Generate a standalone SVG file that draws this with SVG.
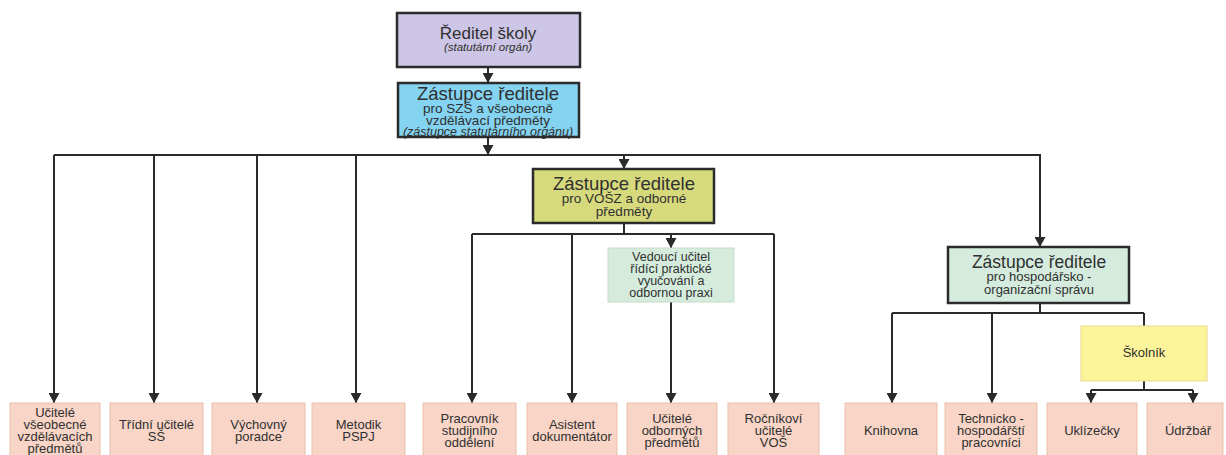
<svg xmlns="http://www.w3.org/2000/svg" width="1226" height="455" viewBox="0 0 1226 455">
<style>
text{font-family:"Liberation Sans",Arial,sans-serif;fill:#303030;text-anchor:middle}
.t{font-size:18.5px}
.s{font-size:13.5px}
.i{font-size:12.5px;font-style:italic}
.b{font-size:13px}
.v{font-size:12.5px}
.dark{stroke:#2b2b2b;stroke-width:2.5}
.leaf{fill:#f8d5c6;stroke:#e9bfac;stroke-width:1}
.con line,.con path{stroke:#2b2b2b;stroke-width:2;fill:none}
</style>
<defs>
<marker id="ah" viewBox="0 0 10 11" markerUnits="userSpaceOnUse" markerWidth="10" markerHeight="11" refX="10" refY="5.5" orient="auto">
<path d="M0,0 L10,5.5 L0,11 z" fill="#2b2b2b"/>
</marker>
</defs>
<rect width="1226" height="455" fill="#ffffff"/>

<g class="con">
<line x1="488" y1="67" x2="488" y2="83" marker-end="url(#ah)"/>
<line x1="488" y1="137" x2="488" y2="155" marker-end="url(#ah)"/>
<line x1="54" y1="155" x2="1041" y2="155"/>
<line x1="54" y1="155" x2="54" y2="403" marker-end="url(#ah)"/>
<line x1="154" y1="155" x2="154" y2="403" marker-end="url(#ah)"/>
<line x1="257" y1="155" x2="257" y2="403" marker-end="url(#ah)"/>
<line x1="356" y1="155" x2="356" y2="403" marker-end="url(#ah)"/>
<line x1="624" y1="155" x2="624" y2="169" marker-end="url(#ah)"/>
<line x1="1040" y1="155" x2="1040" y2="247" marker-end="url(#ah)"/>
<line x1="624" y1="223" x2="624" y2="234"/>
<line x1="472" y1="234" x2="774" y2="234"/>
<line x1="472" y1="234" x2="472" y2="403" marker-end="url(#ah)"/>
<line x1="572" y1="234" x2="572" y2="403" marker-end="url(#ah)"/>
<line x1="774" y1="234" x2="774" y2="403" marker-end="url(#ah)"/>
<line x1="671" y1="234" x2="671" y2="248" marker-end="url(#ah)"/>
<line x1="671" y1="302" x2="671" y2="403" marker-end="url(#ah)"/>
<line x1="1040" y1="303" x2="1040" y2="313"/>
<line x1="892" y1="313" x2="1144" y2="313"/>
<line x1="892" y1="313" x2="892" y2="403" marker-end="url(#ah)"/>
<line x1="992" y1="313" x2="992" y2="403" marker-end="url(#ah)"/>
<line x1="1144" y1="313" x2="1144" y2="326"/>
<line x1="1144" y1="381" x2="1144" y2="390"/>
<line x1="1091" y1="390" x2="1193" y2="390"/>
<line x1="1091" y1="390" x2="1091" y2="403" marker-end="url(#ah)"/>
<line x1="1193" y1="390" x2="1193" y2="403" marker-end="url(#ah)"/>
</g>

<g id="reditel">
<rect x="397" y="13" width="183" height="54" fill="#cdc6e6" class="dark"/>
<text x="488" y="39" style="font-size:17px">Ředitel školy</text>
<text x="488" y="51" class="i" style="font-size:11.5px">(statutární orgán)</text>
</g>

<g id="zastupce-szs">
<rect x="398" y="83" width="181" height="54" fill="#83d3f1" class="dark"/>
<text x="488" y="99.5" class="t">Zástupce ředitele</text>
<text x="488" y="113" class="s">pro SZŠ a všeobecně</text>
<text x="488" y="125" class="s">vzdělávací předměty</text>
<text x="488" y="136" class="i">(zástupce statutárního orgánu)</text>
</g>

<g id="zastupce-vosz">
<rect x="533" y="169" width="181" height="54" fill="#d6da7c" class="dark"/>
<text x="624" y="190" class="t">Zástupce ředitele</text>
<text x="624" y="203" class="s">pro VOŠZ a odborné</text>
<text x="624" y="216" class="s">předměty</text>
</g>

<g id="vedouci-ucitel">
<rect x="608" y="248" width="126" height="54" fill="#d5ecdd" stroke="#c3dccb" stroke-width="1"/>
<text x="671" y="261" class="v">Vedoucí učitel</text>
<text x="671" y="273" class="v">řídící praktické</text>
<text x="671" y="285" class="v">vyučování a</text>
<text x="671" y="297" class="v">odbornou praxi</text>
</g>

<g id="zastupce-hosp">
<rect x="948" y="247" width="181" height="56" fill="#d4ebdd" class="dark"/>
<text x="1039" y="268" style="font-size:17.5px">Zástupce ředitele</text>
<text x="1039" y="281" class="b">pro hospodářsko -</text>
<text x="1039" y="293.5" class="b">organizační správu</text>
</g>

<g id="skolnik">
<rect x="1081" y="326" width="126" height="55" fill="#fbf49a" stroke="#e6dc8e" stroke-width="1"/>
<text x="1144" y="357" class="b">Školník</text>
</g>

<g id="ucitele-vseobecne">
<rect x="10" y="403" width="90" height="60" class="leaf"/>
<text x="55" y="417" class="b">Učitelé</text>
<text x="55" y="429" class="b">všeobecné</text>
<text x="55" y="441" class="b">vzdělávacích</text>
<text x="55" y="453" class="b">předmětů</text>
</g>

<g id="tridni-ucitele">
<rect x="110" y="403" width="93" height="60" class="leaf"/>
<text x="156.5" y="429" class="b">Třídní učitelé</text>
<text x="156.5" y="441" class="b">SŠ</text>
</g>

<g id="vychovny-poradce">
<rect x="212" y="403" width="93" height="60" class="leaf"/>
<text x="258.5" y="429" class="b">Výchovný</text>
<text x="258.5" y="441" class="b">poradce</text>
</g>

<g id="metodik">
<rect x="312" y="403" width="93" height="60" class="leaf"/>
<text x="358.5" y="429" class="b">Metodik</text>
<text x="358.5" y="441" class="b">PSPJ</text>
</g>

<g id="pracovnik-studijniho">
<rect x="423" y="403" width="93" height="60" class="leaf"/>
<text x="469.5" y="423" class="b">Pracovník</text>
<text x="469.5" y="435" class="b">studijního</text>
<text x="469.5" y="447" class="b">oddělení</text>
</g>

<g id="asistent">
<rect x="527" y="403" width="90" height="60" class="leaf"/>
<text x="572" y="429" class="b">Asistent</text>
<text x="572" y="441" class="b">dokumentátor</text>
</g>

<g id="ucitele-odbornych">
<rect x="627" y="403" width="90" height="60" class="leaf"/>
<text x="672" y="423" class="b">Učitelé</text>
<text x="672" y="435" class="b">odborných</text>
<text x="672" y="447" class="b">předmětů</text>
</g>

<g id="rocnikovi">
<rect x="728" y="403" width="91" height="60" class="leaf"/>
<text x="773.5" y="423" class="b">Ročníkoví</text>
<text x="773.5" y="435" class="b">učitelé</text>
<text x="773.5" y="447" class="b">VOŠ</text>
</g>

<g id="knihovna">
<rect x="845" y="403" width="92" height="60" class="leaf"/>
<text x="891" y="435" class="b">Knihovna</text>
</g>

<g id="technicko">
<rect x="945" y="403" width="92" height="60" class="leaf"/>
<text x="991" y="423" class="b">Technicko -</text>
<text x="991" y="435" class="b">hospodářští</text>
<text x="991" y="447" class="b">pracovníci</text>
</g>

<g id="uklizecky">
<rect x="1047" y="403" width="90" height="60" class="leaf"/>
<text x="1092" y="435" class="b">Uklízečky</text>
</g>

<g id="udrzbar">
<rect x="1147" y="403" width="76" height="60" class="leaf"/>
<text x="1188" y="435" class="b">Údržbář</text>
</g>
</svg>
